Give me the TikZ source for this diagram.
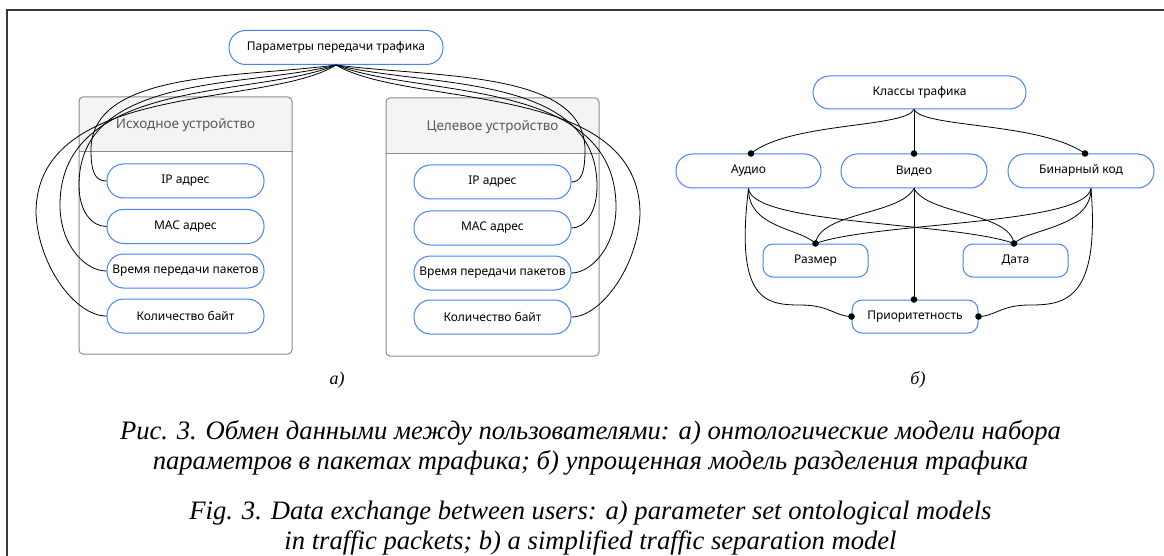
\documentclass[tikz,border=0pt]{standalone}
\usepackage{fontspec}
\usepackage{graphicx}
\setmainfont{Liberation Serif}
\newfontfamily\nodefont{Noto Sans}
\usetikzlibrary{calc}
\definecolor{nodeblue}{RGB}{66,133,244}
\definecolor{boxgray}{RGB}{140,140,140}
\definecolor{hdrgray}{RGB}{244,244,244}
\definecolor{titlegray}{RGB}{89,89,89}
\definecolor{framegray}{RGB}{55,55,55}
\newlength\capw
\begin{document}
\settowidth\capw{\itshape\fontsize{26}{30}\selectfont Рис. 3. Обмен данными между пользователями: а) онтологические модели набора}%
\pgfmathsetmacro\capscale{941/\capw}%
\begin{tikzpicture}[x=1pt,y=-1pt,
  pill/.style={draw=nodeblue, line width=1pt, fill=white, rounded corners=16.5pt,
    minimum height=34pt, inner sep=0pt, font=\nodefont\fontsize{12}{14}\selectfont},
  sqbox/.style={pill, rounded corners=10pt, minimum height=33pt},
  device/.style={draw=boxgray, line width=1pt, fill=white, rounded corners=4pt, inner sep=0pt},
  devtitle/.style={font=\nodefont\fontsize{13.5}{15}\selectfont, text=titlegray},
  link/.style={black, line width=0.8pt},
  dot/.style={black},
  captext/.style={font=\itshape\fontsize{26}{30}\selectfont, anchor=base, inner sep=0pt},
  sublbl/.style={font=\itshape\fontsize{18}{20}\selectfont, anchor=base, inner sep=0pt}
]
\useasboundingbox (0,0) rectangle (1164,556);
% outer frame (cut at right and bottom)
\draw[framegray, line width=1.3pt] (7,556) -- (7,10) -- (1164,10);

% ---------- left figure ----------
\node[device, minimum width=213pt, minimum height=257pt,
  path picture={\fill[hdrgray] (path picture bounding box.north west) rectangle ([yshift=-55pt]path picture bounding box.north east);}]
  (src) at (185.5,225.5) {};
\draw[boxgray, line width=1pt] ([yshift=-55pt]src.north west) -- ([yshift=-55pt]src.north east);
\node[devtitle] (srct) at (185.5,125) {Исходное устройство};

\node[device, minimum width=213pt, minimum height=258pt,
  path picture={\fill[hdrgray] (path picture bounding box.north west) rectangle ([yshift=-56pt]path picture bounding box.north east);}]
  (dst) at (492.5,227) {};
\draw[boxgray, line width=1pt] ([yshift=-56pt]dst.north west) -- ([yshift=-56pt]dst.north east);
\node[devtitle] (dstt) at (492.5,127) {Целевое устройство};

\node[pill, minimum width=214pt] (par) at (336,47.5) {Параметры передачи трафика};

\node[pill, minimum width=157pt] (ipL) at (185.5,181) {IP адрес};
\node[pill, minimum width=157pt] (macL) at (185.5,226.5) {MAC адрес};
\node[pill, minimum width=157pt] (timeL) at (185.5,271) {Время передачи пакетов};
\node[pill, minimum width=157pt] (cntL) at (185.5,316) {Количество байт};

\node[pill, minimum width=157pt] (ipR) at (492.5,182) {IP адрес};
\node[pill, minimum width=157pt] (macR) at (492.5,228) {MAC адрес};
\node[pill, minimum width=157pt] (timeR) at (492.5,273) {Время передачи пакетов};
\node[pill, minimum width=157pt] (cntR) at (492.5,317) {Количество байт};

% curves to the left device
\draw[link] (par.south) .. controls (240,78) and (91,70) .. (91,150)
  .. controls (91,172) and (95,181) .. (ipL.west);
\draw[link] (par.south) .. controls (250,88) and (79,72) .. (79,185)
  .. controls (79,212) and (92,226.5) .. (macL.west);
\draw[link] (par.south) .. controls (258,98) and (60,76) .. (60,205)
  .. controls (60,245) and (85,271) .. (timeL.west);
\draw[link] (par.south) .. controls (268,108) and (36,80) .. (36,213)
  .. controls (38,265) and (75,316) .. (cntL.west);
% curves to the right device (mirror)
\draw[link] (par.south) .. controls (436,78) and (585,70) .. (585,150)
  .. controls (585,173) and (581,182) .. (ipR.east);
\draw[link] (par.south) .. controls (426,88) and (597,72) .. (597,186)
  .. controls (597,214) and (584,228) .. (macR.east);
\draw[link] (par.south) .. controls (418,98) and (616,76) .. (616,207)
  .. controls (616,247) and (591,273) .. (timeR.east);
\draw[link] (par.south) .. controls (408,108) and (640,80) .. (640,214)
  .. controls (638,266) and (601,317) .. (cntR.east);

\node[sublbl] (la) at (337,384) {а)};

% ---------- right figure ----------
\node[pill, minimum width=213pt, minimum height=33pt] (cls) at (919.5,92.5) {Классы трафика};
\node[pill, minimum width=145pt] (aud) at (748.5,171) {Аудио};
\node[pill, minimum width=146pt] (vid) at (914,171) {Видео};
\node[pill, minimum width=146pt] (bin) at (1081,171) {Бинарный код};
\node[sqbox, minimum width=105pt] (siz) at (815.5,260.5) {Размер};
\node[sqbox, minimum width=105pt] (dat) at (1015.5,260.5) {Дата};
\node[sqbox, minimum width=126pt] (pri) at (915,316.5) {Приоритетность};

\coordinate (clsS) at ([xshift=-5.5pt]cls.south);
\coordinate (audN) at ([xshift=2.5pt]aud.north);
\coordinate (binN) at ([xshift=4pt]bin.north);
\coordinate (binS) at ([xshift=10pt]bin.south);
\coordinate (sizN) at (siz.north);
\coordinate (datN) at ([xshift=-1.5pt]dat.north);
\coordinate (priN) at ([xshift=-1pt]pri.north);

\draw[link] (clsS) .. controls (905,128) and (790,122) .. (audN);
\draw[link] (clsS) -- (vid.north);
\draw[link] (clsS) .. controls (923,128) and (1040,122) .. (binN);

\draw[link] (aud.south) .. controls (748,228) and (800,228) .. (sizN);
\draw[link] (aud.south) .. controls (752,225) and (955,222) .. (datN);
\draw[link] (aud.south) .. controls (735,300) and (765,305) .. (800,305)
  .. controls (830,305) and (835,316.5) .. (pri.west);

\draw[link] (vid.south) .. controls (900,215) and (820,212) .. (sizN);
\draw[link] (vid.south) .. controls (928,215) and (1009,212) .. (datN);
\draw[link] (vid.south) -- (priN);

\draw[link] (binS) .. controls (1091,228) and (1030,228) .. (datN);
\draw[link] (binS) .. controls (1085,225) and (875,222) .. (sizN);
\draw[link] (binS) .. controls (1100,300) and (1065,305) .. (1030,305)
  .. controls (1000,305) and (995,316.5) .. (pri.east);

\foreach \p in {audN, vid.north, binN, sizN, datN, priN, pri.west, pri.east}
  \fill[dot] (\p) circle (3.3pt);

\node[sublbl] (lb) at (918,384) {б)};

% ---------- captions ----------
\node[captext] (c1) at (590.5,439) {\scalebox{\capscale}{Рис. 3. Обмен данными между пользователями: а) онтологические модели набора}};
\node[captext] (c2) at (590.5,469) {\scalebox{\capscale}{параметров в пакетах трафика; б) упрощенная модель разделения трафика}};
\node[captext] (c3) at (590.5,519) {\scalebox{\capscale}{Fig. 3. Data exchange between users: a) parameter set ontological models}};
\node[captext] (c4) at (590.5,549) {\scalebox{\capscale}{in traffic packets; b) a simplified traffic separation model}};
\end{tikzpicture}
\end{document}
